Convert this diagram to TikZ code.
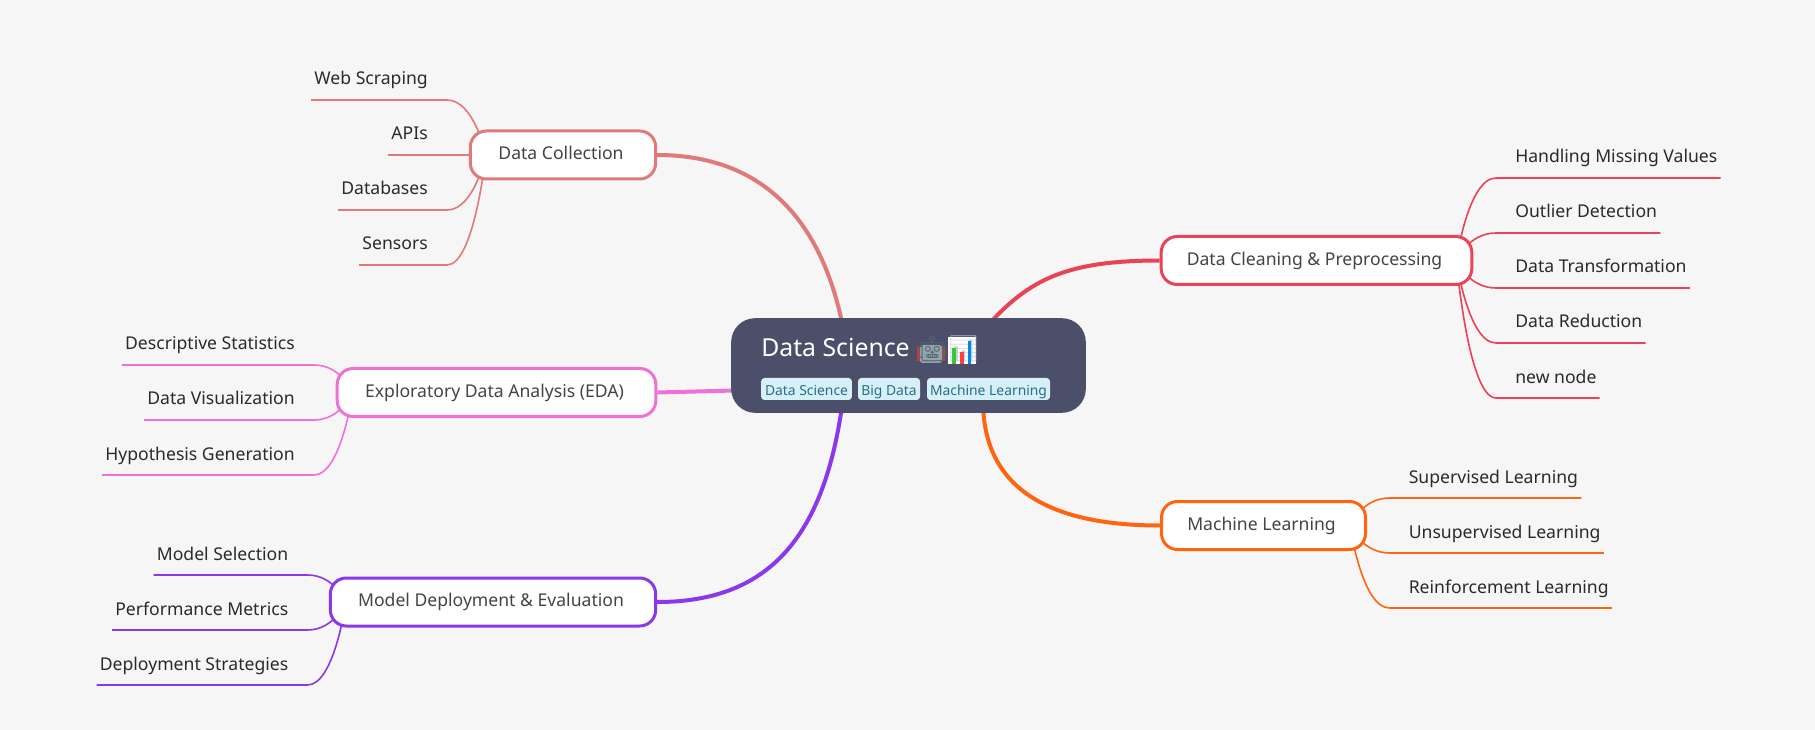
\documentclass[tikz,border=0pt]{standalone}
\usepackage{fontspec}
\setmainfont{Noto Sans}
\newfontfamily\emojifont{Noto Emoji}
\usetikzlibrary{calc,backgrounds}
\definecolor{pagegray}{HTML}{F6F6F6}
\definecolor{rootblue}{HTML}{4C4F69}
\definecolor{tagfill}{HTML}{D6F0F8}
\definecolor{tagtext}{HTML}{276F86}
\definecolor{branchtext}{HTML}{444444}
\definecolor{leaftext}{HTML}{2A2A2A}
\definecolor{collectcol}{HTML}{E07A7A}
\definecolor{cleancol}{HTML}{E94357}
\definecolor{learncol}{HTML}{FF6510}
\definecolor{edacol}{HTML}{EE72D6}
\definecolor{deploycol}{HTML}{8B38EA}
\definecolor{robotgray}{HTML}{90A4AE}
\definecolor{robotline}{HTML}{56646C}
\definecolor{robotear}{HTML}{C33B3B}
\definecolor{chartline}{HTML}{C9CDD6}
\tikzset{
  rootbox/.style={fill=rootblue, rounded corners=18pt, minimum width=266pt, minimum height=71pt, inner sep=0pt},
  tagbox/.style={fill=tagfill, text=tagtext, rounded corners=2.5pt, inner sep=0pt, minimum height=16.5pt, text height=10.5pt, text depth=0.5pt, font=\fontsize{10.4pt}{12pt}\selectfont},
  branchbox/.style={draw=#1, fill=white, line width=2.25pt, rounded corners=12pt, inner sep=0pt, minimum height=36pt, text height=10.5pt, text depth=3.7pt, text=branchtext, font=\fontsize{13.2pt}{15pt}\selectfont, execute at end node=\hspace*{3pt}},
  leafnode/.style={inner sep=0pt, text=leaftext, font=\fontsize{13.2pt}{15pt}\selectfont},
  mainlink/.style={draw=#1, line width=3pt},
  leaflink/.style={draw=#1, line width=1.2pt},
  emojinode/.style={anchor=base west, inner sep=0pt, font=\emojifont\fontsize{19pt}{22pt}\selectfont},
}
% hub, name of the leaf, colour
\newcommand{\leafline}[3]{%
  \draw[leaflink=#3] (#1) .. controls (#1) and ($(#1 |- #2-in)!.3!(#2-in)$) .. (#2-in) -- (#2-out);
}
\begin{document}
\begin{tikzpicture}[x=0.75pt, y=-0.75pt]
    \useasboundingbox (0,0) rectangle (1815,730);
    % Root with its tags
    \node[rootbox] (root) at (908.5,365.5) {};
    \node[anchor=base west, inner sep=0pt, text=white, font=\fontsize{18.6pt}{22pt}\selectfont] (roottitle) at (761,357) {Data Science};
    % Colour under the two emoji
    \fill[robotear] (917,347) rectangle (945,361);
    \fill[robotgray, rounded corners=2pt] (920,345) rectangle (942,363);
    \fill[white] (948,337) rectangle (976,364);
    \node[emojinode, text=robotline] (robot) at (916,358) {🤖};
    \node[emojinode, text=chartline] (chart) at (947,358) {📊};
    \fill[green!55!gray] (952,348) rectangle (956,364);
    \fill[red!75] (960,352) rectangle (964,364);
    \fill[blue!40!cyan!90!black] (968,341) rectangle (971,364);
    \node[tagbox, minimum width=68pt] (tagds) at (806.5,389) {Data Science};
    \node[tagbox, minimum width=46.5pt] (tagbd) at (889,389) {Big Data};
    \node[tagbox, minimum width=92.25pt] (tagml) at (988.5,389) {Machine Learning};
    % Branches
    \node[branchbox=collectcol, minimum width=139pt] (collect) at (563,155) {Data Collection};
    \node[branchbox=cleancol, minimum width=233pt] (clean) at (1316.5,260.5) {Data Cleaning \& Preprocessing};
    \node[branchbox=learncol, minimum width=153pt] (learn) at (1263.5,525.5) {Machine Learning};
    \node[branchbox=edacol, minimum width=239pt] (eda) at (496.5,392.5) {Exploratory Data Analysis (EDA)};
    \node[branchbox=deploycol, minimum width=244pt] (deploy) at (493,602) {Model Deployment \& Evaluation};
    % Hubs where the thin links meet
    \coordinate (collecthub) at ($(collect.west)+(17,0)$);
    \coordinate (edahub) at ($(eda.west)+(17,0)$);
    \coordinate (deployhub) at ($(deploy.west)+(17,0)$);
    \coordinate (cleanhub) at ($(clean.east)+(-17,0)$);
    \coordinate (learnhub) at ($(learn.east)+(-17,0)$);
    \begin{scope}[on background layer]
        \fill[pagegray] (0,0) rectangle (1815,730);
        % Thick links to the root
        \draw[mainlink=collectcol] (collect.east) .. controls +(97,0) and ($(root.north west)+(87,-108)$) .. ($(root.north west)+(111,4)$);
        \draw[mainlink=cleancol] (clean.west) .. controls +(-92,0) and ($(root.north east)+(-56,-39)$) .. ($(root.north east)+(-97,6)$);
        \draw[mainlink=learncol] (learn.west) .. controls +(-116,0) and ($(root.south east)+(-100,72)$) .. ($(root.south east)+(-103,-6)$);
        \draw[mainlink=edacol] (eda.east) -- ($(root.west)+(4,25)$);
        \draw[mainlink=deploycol] (deploy.east) .. controls +(111,0) and ($(root.south west)+(92,125)$) .. ($(root.south west)+(111,-6)$);
        % Leaves on the left
        \foreach \nm/\yy/\txt in {ws/100/Web Scraping, api/155/APIs, dbs/210/Databases, sen/265/Sensors} {
            \node[leafnode, anchor=base east] (\nm) at (428,\yy-15) {\txt};
            \coordinate (\nm-in) at ($(\nm.base east)+(19,15)$);
            \coordinate (\nm-out) at ($(\nm.base west)+(-3,15)$);
            \leafline{collecthub}{\nm}{collectcol}
        }
        \foreach \nm/\yy/\txt in {des/365/Descriptive Statistics, viz/420/Data Visualization, hyp/475/Hypothesis Generation} {
            \node[leafnode, anchor=base east] (\nm) at (295,\yy-15) {\txt};
            \coordinate (\nm-in) at ($(\nm.base east)+(19,15)$);
            \coordinate (\nm-out) at ($(\nm.base west)+(-3,15)$);
            \leafline{edahub}{\nm}{edacol}
        }
        \foreach \nm/\yy/\txt in {sel/575/Model Selection, perf/630/Performance Metrics, dep/685/Deployment Strategies} {
            \node[leafnode, anchor=base east] (\nm) at (288.5,\yy-15) {\txt};
            \coordinate (\nm-in) at ($(\nm.base east)+(19,15)$);
            \coordinate (\nm-out) at ($(\nm.base west)+(-3,15)$);
            \leafline{deployhub}{\nm}{deploycol}
        }
        % Leaves on the right
        \foreach \nm/\yy/\txt in {miss/178/Handling Missing Values, out/233/Outlier Detection, tran/288/Data Transformation, redu/343/Data Reduction, nn/398/new node} {
            \node[leafnode, anchor=base west] (\nm) at (1515,\yy-15) {\txt};
            \coordinate (\nm-in) at ($(\nm.base west)+(-19,15)$);
            \coordinate (\nm-out) at ($(\nm.base east)+(3,15)$);
            \leafline{cleanhub}{\nm}{cleancol}
        }
        \foreach \nm/\yy/\txt in {sup/498/Supervised Learning, uns/553/Unsupervised Learning, rei/608/Reinforcement Learning} {
            \node[leafnode, anchor=base west] (\nm) at (1408.5,\yy-15) {\txt};
            \coordinate (\nm-in) at ($(\nm.base west)+(-19,15)$);
            \coordinate (\nm-out) at ($(\nm.base east)+(3,15)$);
            \leafline{learnhub}{\nm}{learncol}
        }
    \end{scope}
\end{tikzpicture}
\end{document}
